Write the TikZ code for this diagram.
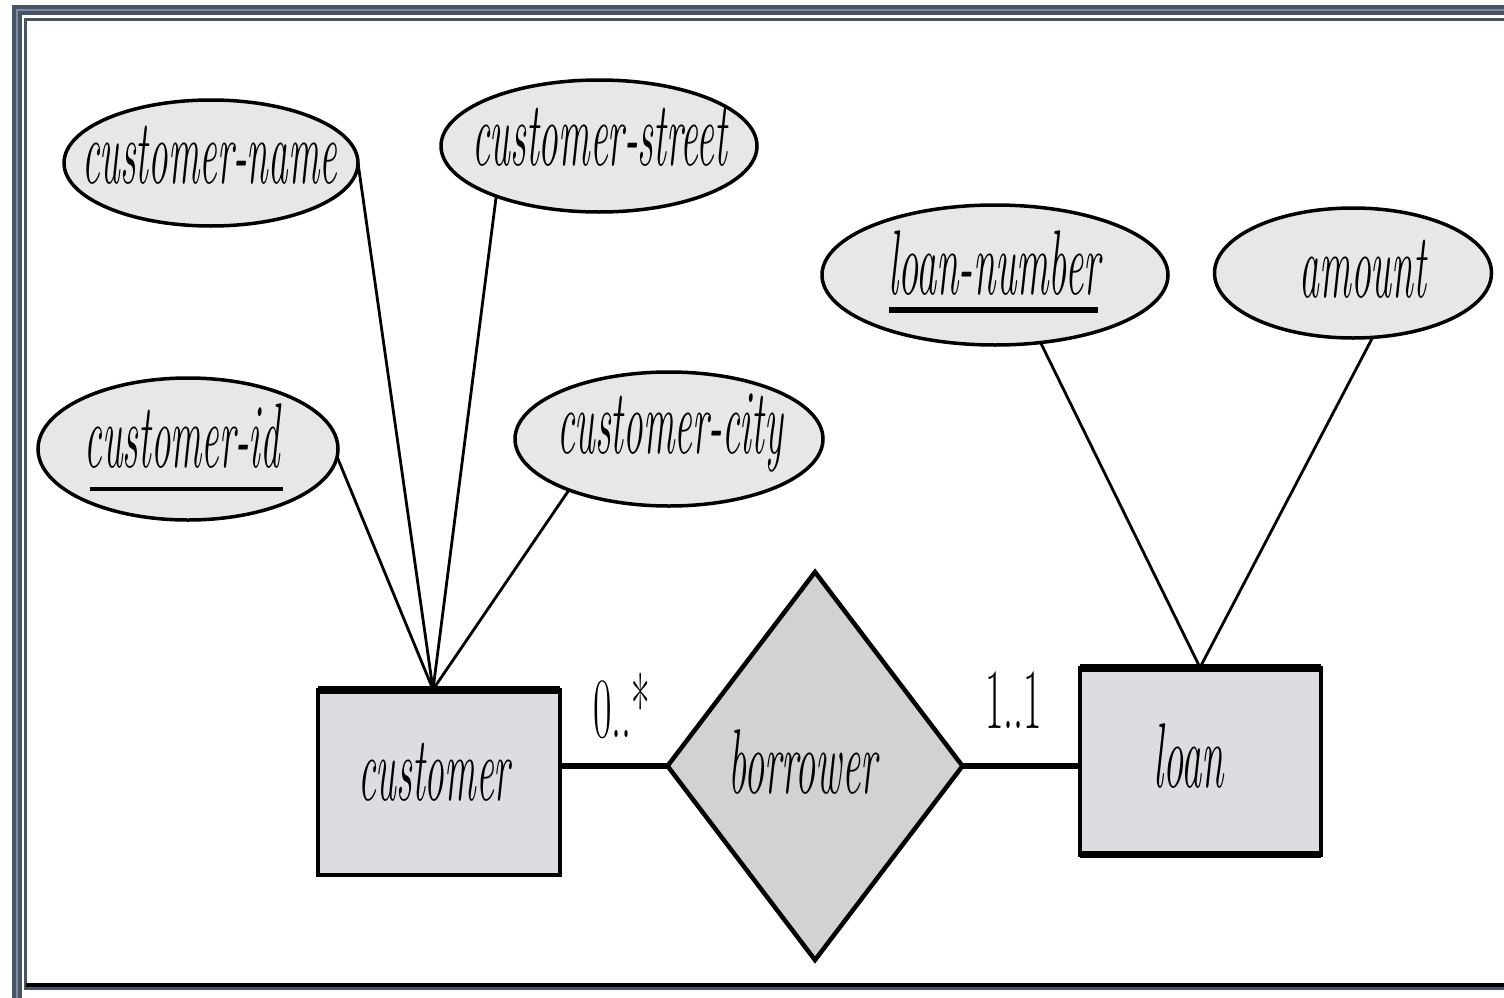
\documentclass[tikz,border=0pt]{standalone}
\usepackage{graphicx}
\usetikzlibrary{shapes.geometric}
\definecolor{framec}{RGB}{70,84,104}
\definecolor{framel}{RGB}{128,140,158}
\definecolor{attrfill}{RGB}{231,231,231}
\definecolor{entfill}{RGB}{221,220,225}
\definecolor{relfill}{RGB}{210,210,210}
% squeeze a text horizontally to a given width (in pt), keeping its height
\newcommand{\sq}[2]{\resizebox{#1pt}{\height}{#2}}
\begin{document}
\begin{tikzpicture}[x=1pt,y=-1pt,
  attr/.style={ellipse,draw=black,line width=3.5pt,fill=attrfill,inner sep=0pt,outer sep=0pt},
  entity/.style={rectangle,draw=black,line width=4pt,fill=entfill,inner sep=0pt,outer sep=0pt},
  rel/.style={diamond,draw=black,line width=4.5pt,fill=relfill,inner sep=0pt,outer sep=0pt},
  lbl/.style={inner sep=0pt,outer sep=0pt,anchor=base,font=\fontsize{92}{100}\selectfont\itshape},
  card/.style={inner sep=0pt,outer sep=0pt,anchor=base,font=\fontsize{86}{100}\selectfont},
  thin link/.style={line width=2.8pt},
  thick link/.style={line width=5.5pt},
  keyline/.style={line width=4.5pt}]
\useasboundingbox (0,0) rectangle (1504,998);
\clip (0,0) rectangle (1504,998);
\fill[white] (0,0) rectangle (1504,998);

% page frame
\draw[framec,line width=10pt] (16.5,10) rectangle (1530,1003);
\draw[framel,line width=2pt] (16.5,10) rectangle (1530,1003);
\draw[framec,line width=3.5pt] (25.5,19.5) rectangle (1520,988);
\draw[black,line width=4pt] (25.5,985) -- (1504,985);

% attribute ellipses
\node[attr,minimum width=294pt,minimum height=126pt] (cname) at (211,163) {};
\node[attr,minimum width=316pt,minimum height=132pt] (cstreet) at (599,146) {};
\node[attr,minimum width=346pt,minimum height=140pt] (lnum) at (995,275) {};
\node[attr,minimum width=277pt,minimum height=130pt] (amount) at (1353,273) {};
\node[attr,minimum width=300pt,minimum height=142pt] (cid) at (188,449) {};
\node[attr,minimum width=308pt,minimum height=134pt] (ccity) at (669,439) {};

% entities and relationship
\node[entity,minimum width=242pt,minimum height=185pt] (cust) at (439,782) {};
\node[entity,minimum width=241pt,minimum height=187pt] (loan) at (1200,761) {};
\node[rel,minimum width=295pt,minimum height=388pt] (bor) at (815,766) {};

% heavier edges of the entity boxes
\draw[line width=8pt] (cust.north west) -- (cust.north east);
\draw[line width=8pt] (loan.north west) -- (loan.north east);
\draw[line width=7pt] (loan.south west) -- (loan.south east);

% attribute links
\draw[thin link] (cname.east) -- ([xshift=-6pt]cust.north);
\draw[thin link] (cstreet.206) -- ([xshift=-6pt]cust.north);
\draw[thin link] (cid.-3) -- ([xshift=-6pt]cust.north);
\draw[thin link] (ccity.207) -- ([xshift=-6pt]cust.north);
\draw[thin link] (lnum.304) -- (loan.north);
\draw[thin link] (amount.287) -- (loan.north);

% relationship links
\draw[thick link] (bor.west) -- (bor.west -| cust.east);
\draw[thick link] (bor.east) -- (bor.east -| loan.west);

% labels
\node[lbl] (tcname) at (209.5,183) {\sq{255}{customer-name}};
\node[lbl] (tcstreet) at (599.5,165) {\sq{255}{customer-street}};
\node[lbl] (tlnum) at (994,294) {\sq{212}{loan-number}};
\node[lbl] (tamount) at (1363,297) {\sq{127}{amount}};
\node[lbl] (tcid) at (182.5,467) {\sq{195}{customer-id}};
\node[lbl] (tccity) at (670,453) {\sq{226}{customer-city}};
\node[lbl] (tcust) at (434,800) {\sq{152}{customer}};
\node[lbl] (tloan) at (1188.5,787) {\sq{71}{loan}};
\node[lbl] (tbor) at (802.5,793) {\sq{149}{borrower}};
\node[card] (c1) at (621.5,737) {\sq{57}{0..*}};
\node[card] (c2) at (1013.5,728) {\sq{57}{1..1}};

% key underlines
\draw[keyline] ([xshift=5pt,yshift=-22pt]tcid.base west) -- ([xshift=3pt,yshift=-22pt]tcid.base east);
\draw[line width=6pt] ([xshift=1pt,yshift=-16pt]tlnum.base west) -- ([xshift=-2pt,yshift=-16pt]tlnum.base east);
\end{tikzpicture}
\end{document}
